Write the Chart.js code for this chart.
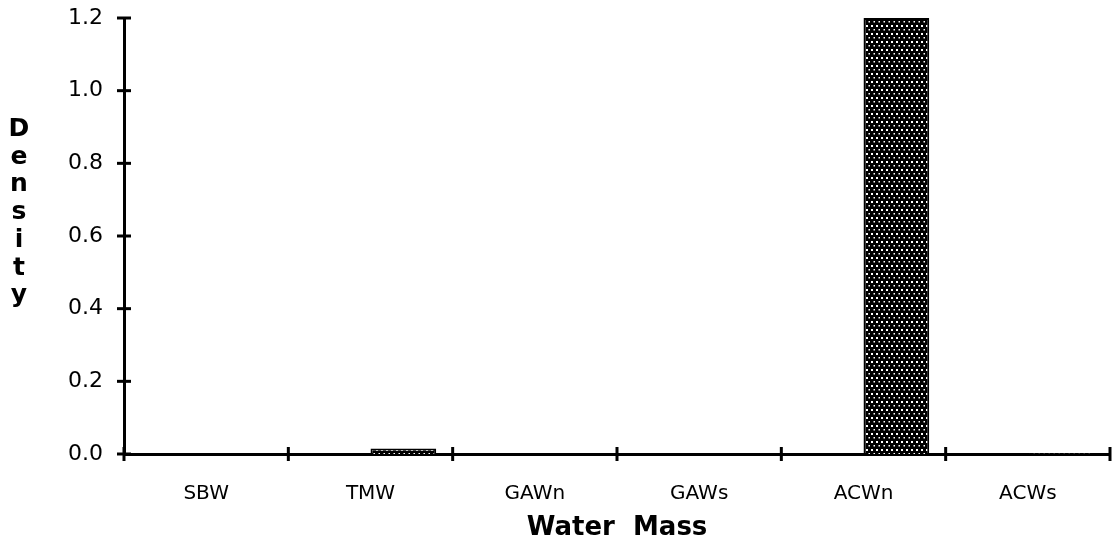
<!DOCTYPE html>
<html>
<head>
<meta charset="utf-8">
<script src="https://cdn.jsdelivr.net/npm/chart.js@4"></script>
<style>
  html, body { margin: 0; padding: 0; background: #fff; }
  #wrap { width: 1118px; height: 541px; position: relative; }
</style>
</head>
<body>
<div id="wrap"><canvas id="chart"></canvas></div>
<script>
// --- DATA ---
const categories = ['SBW', 'TMW', 'GAWn', 'GAWs', 'ACWn', 'ACWs'];
const emptySeries = [0, 0, 0, 0, 0, 0];
const densityValues = [0, 0.015, 0, 0, 1.2, 0.002];
const yTicks = [0, 0.2, 0.4, 0.6, 0.8, 1.0, 1.2];
const yLabel = 'Density';
const xLabel = 'Water  Mass';

const FONT = '"DejaVu Sans", "Liberation Sans", Arial, sans-serif';

// dotted fill for the bars
const makePattern = () => {
    const c = document.createElement('canvas');
    c.width = 5; c.height = 8;
    const g = c.getContext('2d');
    g.fillStyle = '#000';
    g.fillRect(0, 0, 5, 8);
    g.fillStyle = '#fff';
    g.fillRect(1, 1, 2, 2);
    g.fillRect(3.5, 5, 1.5, 1.5);
    return g.createPattern(c, 'repeat');
};

// ticks crossing the axis lines + stacked y label
const crossTicks = {
    id: 'crossTicks',
    afterDraw(chart) {
        const { ctx, scales: { x, y }, chartArea } = chart;
        ctx.save();
        ctx.strokeStyle = '#000';
        ctx.lineWidth = 3;
        yTicks.forEach(v => {
            const py = y.getPixelForValue(v);
            ctx.beginPath();
            ctx.moveTo(chartArea.left - 7, py);
            ctx.lineTo(chartArea.left + 7, py);
            ctx.stroke();
        });
        for (let i = 0; i <= categories.length; i++) {
            const px = x.getPixelForValue(i - 0.5);
            ctx.beginPath();
            ctx.moveTo(px, chartArea.bottom - 7);
            ctx.lineTo(px, chartArea.bottom + 7);
            ctx.stroke();
        }
        ctx.fillStyle = '#000';
        ctx.font = 'bold 25px ' + FONT;
        ctx.textAlign = 'center';
        ctx.textBaseline = 'alphabetic';
        const letters = yLabel.split('');
        letters.forEach((ch, i) => {
            ctx.fillText(ch, 19, 136 + i * 27.7);
        });
        ctx.restore();
    }
};

const ctxEl = document.getElementById('chart');
new Chart(ctxEl.getContext('2d'), {
    type: 'bar',
    data: {
        labels: categories,
        datasets: [
            { data: emptySeries, backgroundColor: 'rgba(0,0,0,0)', borderWidth: 0 },
            { data: densityValues, backgroundColor: makePattern(), borderColor: '#000', borderWidth: 2, borderSkipped: 'bottom' }
        ]
    },
    options: {
        responsive: true,
        maintainAspectRatio: false,
        animation: false,
        layout: { padding: { left: 0, right: 8, top: 18, bottom: 0 } },
        plugins: { legend: { display: false }, tooltip: { enabled: false } },
        datasets: { bar: { categoryPercentage: 0.8, barPercentage: 1 } },
        scales: {
            x: {
                grid: { display: false, drawTicks: false },
                border: { display: true, color: '#000', width: 3 },
                ticks: { color: '#000', padding: 28, font: { family: FONT, size: 20 } },
                title: { display: true, text: xLabel, color: '#000', padding: { top: 0, bottom: -3 }, font: { family: FONT, size: 26, weight: 'bold' } },
                afterFit: s => { s.height = 87; s.paddingLeft = 0; s.paddingRight = 0; }
            },
            y: {
                min: 0, max: 1.2,
                grid: { display: false, drawTicks: false },
                border: { display: true, color: '#000', width: 3 },
                afterBuildTicks: s => { s.ticks = yTicks.map(v => ({ value: v })); },
                ticks: {
                    color: '#000', padding: 21,
                    font: { family: FONT, size: 22 },
                    callback: v => Number(v).toFixed(1)
                },
                afterFit: s => { s.width = 124; s.paddingTop = 0; s.paddingBottom = 0; }
            }
        }
    },
    plugins: [crossTicks]
});
</script>
</body>
</html>
